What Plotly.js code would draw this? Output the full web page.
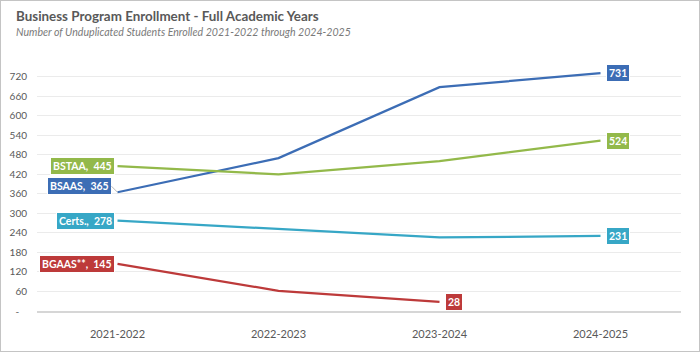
<!DOCTYPE html>
<html>
<head>
<meta charset="utf-8">
<script src="https://cdn.plot.ly/plotly-3.0.1.min.js"></script>
<style>
html,body{margin:0;padding:0;background:#fff;}
#wrap{width:700px;height:352px;box-sizing:border-box;border:1px solid #c4c4c4;background:#fff;}
#chart{width:698px;height:350px;}
</style>
</head>
<body>
<div id="wrap"><div id="chart"></div></div>
<script>
const years = ["2021-2022", "2022-2023", "2023-2024", "2024-2025"];
const seriesNames = ["BSAAS", "BSTAA", "Certs.", "BGAAS**"];
const bsaas = [365, 470, 688, 731];
const bstaa = [445, 420, 461, 524];
const certs = [278, 253, 226, 231];
const bgaas = [145, 62, 28, null];
const colors = ["#3C6DB5", "#93B94A", "#37A7C6", "#BD3A3A"];
const yTicks = [0, 60, 120, 180, 240, 300, 360, 420, 480, 540, 600, 660, 720];
const yTickText = ["-\u00a0\u00a0\u00a0", "60", "120", "180", "240", "300", "360", "420", "480", "540", "600", "660", "720"];

const allSeries = [bsaas, bstaa, certs, bgaas];

const traces = allSeries.map((vals, i) => ({
  type: "scatter",
  mode: "lines",
  x: years,
  y: vals,
  name: seriesNames[i],
  line: {color: colors[i], width: 2.25},
  hoverinfo: "x+y+name",
  showlegend: false
}));

const labelFont = {family: "Lato, 'Open Sans', sans-serif", size: 10.5, color: "#ffffff", weight: 700};
const annotations = [];

allSeries.forEach((vals, i) => {
  const first = vals[0];
  const isBsaas = i === 0;
  const a = {
    x: years[0], y: first, xref: "x", yref: "y",
    text: "<b>" + seriesNames[i] + ",  " + first + "</b>",
    font: labelFont, bgcolor: colors[i], borderpad: 2,
    bordercolor: "#ffffff", borderwidth: 1
  };
  if (isBsaas) {
    Object.assign(a, {showarrow: true, arrowhead: 0, arrowwidth: 0.8, arrowcolor: "#a6a6a6",
      ax: -6, ay: -6, xanchor: "right", yanchor: "middle", standoff: 0});
  } else {
    Object.assign(a, {showarrow: false, xanchor: "right", yanchor: "middle", xshift: -3});
  }
  annotations.push(a);
  let li = vals.length - 1;
  while (vals[li] === null) li--;
  annotations.push({
    x: years[li], y: vals[li], xref: "x", yref: "y",
    text: "<b>" + vals[li] + "</b>",
    font: labelFont, bgcolor: colors[i], borderpad: 2,
    bordercolor: "#ffffff", borderwidth: 1,
    showarrow: false, xanchor: "left", yanchor: "middle", xshift: 5
  });
});

annotations.push({
  xref: "paper", yref: "paper", x: -36 / 644, y: 1 + (66 - 15.5) / 244,
  xshift: 13, xanchor: "left", yanchor: "middle", showarrow: false,
  text: "<b>Business Program Enrollment - Full Academic Years</b>",
  font: {family: "Lato, 'Open Sans', sans-serif", size: 13.4, color: "#595959"}
});
annotations.push({
  xref: "paper", yref: "paper", x: -36 / 644, y: 1 + (66 - 31) / 244,
  xshift: 13, xanchor: "left", yanchor: "middle", showarrow: false,
  text: "<i>Number of Unduplicated Students Enrolled 2021-2022 through 2024-2025</i>",
  font: {family: "Lato, 'Open Sans', sans-serif", size: 10.6, color: "#7a7a7a"}
});

const layout = {
  width: 698, height: 350,
  margin: {l: 36, r: 18, t: 66, b: 40},
  paper_bgcolor: "#ffffff", plot_bgcolor: "#ffffff",
  font: {family: "Lato, 'Open Sans', sans-serif", color: "#595959"},
  xaxis: {
    type: "category", range: [-0.5, 3.5], showgrid: false, zeroline: false,
    showline: true, linecolor: "#d6d6d6", linewidth: 1.5,
    ticks: "", tickfont: {size: 11, color: "#595959"}, ticklabelstandoff: 12,
    fixedrange: true
  },
  yaxis: {
    range: [0, 750], tickvals: yTicks, ticktext: yTickText,
    showgrid: true, gridcolor: "#ebebeb", gridwidth: 1, zeroline: false,
    showline: false, ticks: "", tickfont: {size: 10, color: "#595959"},
    ticklabelstandoff: 9, fixedrange: true
  },
  annotations: annotations,
  hovermode: "closest"
};

Plotly.newPlot("chart", traces, layout, {displayModeBar: false, staticPlot: false});
</script>
</body>
</html>
